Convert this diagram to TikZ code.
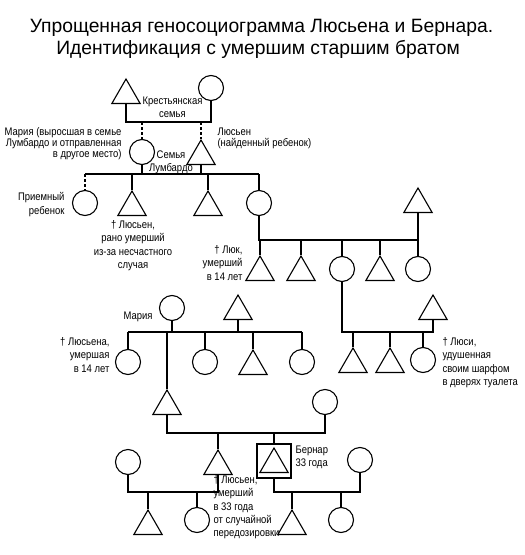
\documentclass[tikz,border=0pt]{standalone}
\usepackage{fontspec}
\setmainfont{Liberation Sans}
\newfontfamily\narrowfont[FakeStretch=0.86]{Liberation Sans}
\usetikzlibrary{shapes.geometric}
\begin{document}
\begin{tikzpicture}[x=1pt,y=-1pt,line width=1.1pt,
  tri/.style={draw,regular polygon,regular polygon sides=3,minimum size=32.6pt,inner sep=0pt},
  circ/.style={draw,circle,minimum size=25pt,inner sep=0pt},
  sqbox/.style={draw,rectangle,minimum size=34pt,inner sep=0pt},
  lbl/.style={inner sep=0pt,font=\narrowfont\fontsize{11}{13.3}\selectfont},
  lbltight/.style={inner sep=0pt,font=\narrowfont\fontsize{11}{11}\selectfont},
  ttl/.style={inner sep=0pt,font=\fontsize{19.3}{22}\selectfont},
  adopt/.style={dash pattern=on 3pt off 2pt}]
\useasboundingbox (0,0) rectangle (525,555);
% title
\node[ttl,anchor=base] (title1) at (261.5,32) {Упрощенная геносоциограмма Люсьена и Бернара.};
\node[ttl,anchor=base] (title2) at (258,54) {Идентификация с умершим старшим братом};
% generation 0
\node[tri] (pf) at (126,95.3) {};
\node[circ] (pm) at (211,88) {};
\coordinate (k0) at (0,122);
\draw (pf.south) -- (pf.south |- k0) -- (pm.south |- k0) -- (pm.south);
% generation 1
\node[circ] (maria1) at (142,152) {};
\node[tri] (lucien1) at (201,156.3) {};
\draw[adopt] (maria1.north |- k0) -- (maria1.north);
\draw[adopt] (lucien1.north |- k0) -- (lucien1.north);
\coordinate (k1) at (0,174);
% generation 2
\node[circ] (adopted) at (85,203) {};
\node[tri] (lucienA) at (132,207.3) {};
\node[tri] (sonB) at (208,207.3) {};
\node[circ] (daughterC) at (259,203) {};
\draw (adopted.north |- k1) -- (daughterC.north |- k1);
\draw (maria1.south) -- (maria1.south |- k1);
\draw (lucien1.south) -- (lucien1.south |- k1);
\draw[adopt] (adopted.north |- k1) -- (adopted.north);
\draw (lucienA.north |- k1) -- (lucienA.north);
\draw (sonB.north |- k1) -- (sonB.north);
\draw (daughterC.north |- k1) -- (daughterC.north);
\node[tri] (husbR) at (418,204.3) {};
\coordinate (k2) at (0,240);
\draw (daughterC.south) -- (daughterC.south |- k2) -- (husbR.south |- k2);
% generation 3 (right)
\node[tri] (luc) at (260,272.3) {};
\node[tri] (g3b) at (301,272.3) {};
\node[circ] (g3c) at (342,269) {};
\node[tri] (g3d) at (380,272.3) {};
\node[circ] (g3e) at (418,269) {};
\draw (luc.north |- k2) -- (luc.north);
\draw (g3b.north |- k2) -- (g3b.north);
\draw (g3c.north |- k2) -- (g3c.north);
\draw (g3d.north |- k2) -- (g3d.north);
\draw (husbR.south) -- (g3e.north);
% generation 3 (left)
\node[circ] (maria3) at (172,308) {};
\node[tri] (husb3) at (238,311.3) {};
\coordinate (k3) at (0,332);
% generation 4 (left)
\node[circ] (lucienna) at (128,362) {};
\node[tri] (father5) at (167,406.3) {};
\node[circ] (g4b) at (205,362) {};
\node[tri] (g4d) at (253,366.3) {};
\node[circ] (g4e) at (302,362) {};
\draw (lucienna.north |- k3) -- (g4e.north |- k3);
\draw (maria3.south) -- (maria3.south |- k3);
\draw (husb3.south) -- (husb3.south |- k3);
\draw (lucienna.north |- k3) -- (lucienna.north);
\draw (father5.north |- k3) -- (father5.north);
\draw (g4b.north |- k3) -- (g4b.north);
\draw (g4d.north |- k3) -- (g4d.north);
\draw (g4e.north |- k3) -- (g4e.north);
% generation 4 (right)
\node[tri] (husb4) at (433,311.3) {};
\draw (g3c.south) -- (g3c.south |- k3) -- (husb4.south |- k3) -- (husb4.south);
\node[tri] (g4f) at (353,364.3) {};
\node[tri] (g4g) at (390,364.3) {};
\node[circ] (lucy) at (423,360) {};
\draw (g4f.north |- k3) -- (g4f.north);
\draw (g4g.north |- k3) -- (g4g.north);
\draw (lucy.north |- k3) -- (lucy.north);
% generation 5
\node[circ] (wife5) at (325,402) {};
\coordinate (k4) at (0,433);
\draw (father5.south) -- (father5.south |- k4) -- (wife5.south |- k4) -- (wife5.south);
\node[tri] (lucien5) at (218,466.3) {};
\node[sqbox] (bernardbox) at (274,461) {};
\node[tri] (bernard) at (274,464.3) {};
\draw (lucien5.north |- k4) -- (lucien5.north);
\draw (bernardbox.north |- k4) -- (bernardbox.north);
\node[circ] (wifeL) at (128,462) {};
\node[circ] (wifeR) at (360,460) {};
\coordinate (k5) at (0,492);
\draw (wifeL.south) -- (wifeL.south |- k5) -- (lucien5.south |- k5) -- (lucien5.south);
\draw (bernardbox.south) -- (bernardbox.south |- k5) -- (wifeR.south |- k5) -- (wifeR.south);
% generation 6
\node[tri] (g6a) at (148,526.3) {};
\node[circ] (g6b) at (197,520) {};
\node[tri] (g6c) at (292,526.3) {};
\node[circ] (g6d) at (341,520) {};
\draw (g6a.north |- k5) -- (g6a.north);
\draw (g6b.north |- k5) -- (g6b.north);
\draw (g6c.north |- k5) -- (g6c.north);
\draw (g6d.north |- k5) -- (g6d.north);
% labels
\node[lbl,align=center,anchor=north] (lblPeasant) at (172.5,96) {Крестьянская\\семья};
\node[lbltight,align=right,anchor=north east] (lblMaria1) at (122,127) {Мария (выросшая в семье\\Лумбардо и отправленная\\в другое место)};
\node[lbltight,align=left,anchor=north west] (lblLucien1) at (217,127) {Люсьен\\(найденный ребенок)};
\node[lbl,align=center,anchor=north] (lblLumbardo) at (171,150) {Семья\\Лумбардо};
\node[lbl,align=right,anchor=north east] (lblAdopted) at (65,192) {Приемный\\ребенок};
\node[lbl,align=center,anchor=north] (lblLucienA) at (133,220) {† Люсьен,\\рано умерший\\из-за несчастного\\случая};
\node[lbl,align=right,anchor=north east] (lblLuc) at (243,245) {† Люк,\\умерший\\в 14 лет};
\node[lbl,anchor=base east] (lblMaria3) at (153,319) {Мария};
\node[lbl,align=right,anchor=north east] (lblLucienna) at (110,337) {† Люсьена,\\умершая\\в 14 лет};
\node[lbl,align=left,anchor=north west] (lblLucy) at (442,337) {† Люси,\\удушенная\\своим шарфом\\в дверях туалета};
\node[lbl,align=left,anchor=north west] (lblBernard) at (295,445) {Бернар\\33 года};
\node[lbl,align=left,anchor=north west] (lblLucien5) at (213,475) {† Люсьен,\\умерший\\в 33 года\\от случайной\\передозировки};
\end{tikzpicture}
\end{document}
